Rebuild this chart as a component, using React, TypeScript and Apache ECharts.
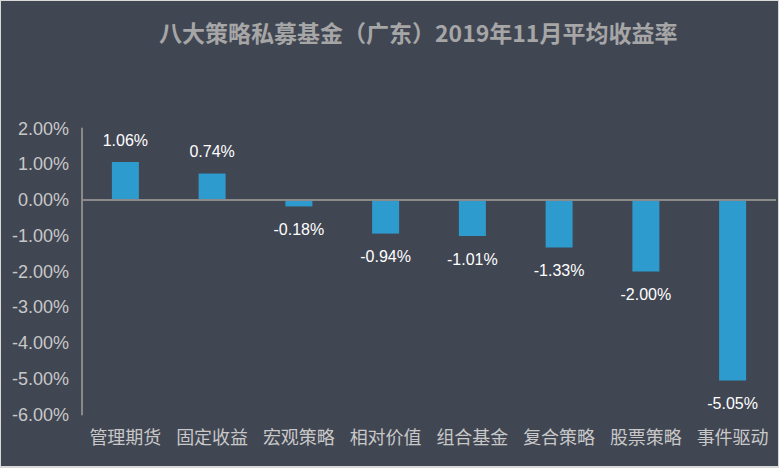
import React, { useEffect, useRef } from "react";
import * as echarts from "echarts";

const titleText = "八大策略私募基金（广东）2019年11月平均收益率";
const categories = ["管理期货", "固定收益", "宏观策略", "相对价值", "组合基金", "复合策略", "股票策略", "事件驱动"];
const values = [1.06, 0.74, -0.18, -0.94, -1.01, -1.33, -2.0, -5.05];
const yMin = -6;
const yMax = 2;
const yInterval = 1;

const FONT = "'Noto Sans CJK SC', 'Microsoft YaHei', sans-serif";

export default function App() {
  const ref = useRef<HTMLDivElement>(null);
  useEffect(() => {
    if (!ref.current) return;
    const chart = echarts.init(ref.current, null, { renderer: "svg" });
    chart.setOption({
      animation: false,
      backgroundColor: "#414653",
      title: {
        text: titleText,
        left: 153,
        top: 14,
        textStyle: { color: "#a6a6a6", fontSize: 23, fontWeight: "bold", fontFamily: FONT },
      },
      grid: { left: 81, right: 2, top: 127.5, bottom: 51.5, containLabel: false },
      xAxis: {
        type: "category",
        data: categories,
        axisLine: { show: false, onZero: false },
        axisTick: { show: false },
        axisLabel: { color: "#c8c8c8", fontSize: 18, fontFamily: FONT, margin: 12, interval: 0 },
        splitLine: { show: false },
      },
      yAxis: {
        type: "value",
        min: yMin,
        max: yMax,
        interval: yInterval,
        axisLine: { show: true, lineStyle: { color: "#8a8a8a", width: 2 } },
        axisTick: { show: false },
        splitLine: { show: false },
        axisLabel: {
          color: "#c8c8c8",
          fontSize: 18,
          fontFamily: "Arial, 'Liberation Sans', sans-serif",
          margin: 13,
          formatter: (v: number) => v.toFixed(2) + "%",
        },
      },
      series: [
        {
          type: "bar",
          data: values.map((v) => ({
            value: v,
            label: { position: v >= 0 ? "top" : "bottom", distance: v >= 0 ? 14 : 15 },
          })),
          barWidth: 27,
          itemStyle: { color: "#2e9bce" },
          label: {
            show: true,
            color: "#ffffff",
            fontSize: 16,
            fontFamily: "Arial, 'Liberation Sans', sans-serif",
            formatter: (p: any) => Number(p.value).toFixed(2) + "%",
          },
          markLine: {
            silent: true,
            symbol: ["none", "none"],
            label: { show: false },
            lineStyle: { color: "#8a8a8a", width: 2, type: "solid" },
            data: [{ yAxis: 0 }],
          },
        },
      ],
    });
    return () => chart.dispose();
  }, []);
  return (
    <div style={{ position: "fixed", left: 0, top: 0, width: 779, height: 468, background: "#d9d9d9" }}>
      <div ref={ref} style={{ position: "absolute", left: 1, top: 1, width: 777, height: 465 }} />
    </div>
  );
}
